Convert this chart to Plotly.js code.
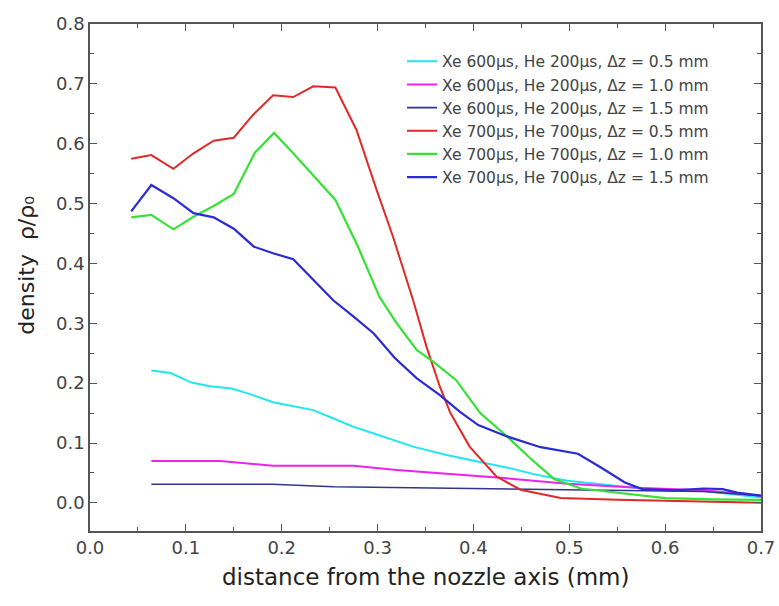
<!DOCTYPE html>
<html>
<head>
<meta charset="utf-8">
<script src="https://cdn.plot.ly/plotly-3.0.1.min.js"></script>
<style>html,body{margin:0;padding:0;background:#fff;}#chart{width:779px;height:606px;}</style>
</head>
<body>
<div id="chart"></div>
<script>
// Xe 600us, He 200us, dz = 0.5 mm (cyan)
const cyanX = [0.064,0.084,0.106,0.125,0.148,0.170,0.191,0.212,0.233,0.254,0.275,0.296,0.337,0.372,0.407,0.438,0.463,0.498,0.533,0.576,0.640,0.700];
const cyanY = [0.221,0.217,0.201,0.195,0.191,0.180,0.168,0.161,0.155,0.141,0.127,0.116,0.094,0.080,0.069,0.058,0.048,0.037,0.031,0.024,0.020,0.009];
// Xe 600us, He 200us, dz = 1.0 mm (magenta)
const magX = [0.064,0.136,0.191,0.275,0.320,0.389,0.428,0.498,0.576,0.640,0.700];
const magY = [0.070,0.070,0.062,0.062,0.055,0.047,0.042,0.032,0.025,0.021,0.012];
// Xe 600us, He 200us, dz = 1.5 mm (navy)
const navyX = [0.064,0.190,0.254,0.350,0.430,0.500,0.570,0.640,0.700];
const navyY = [0.031,0.031,0.027,0.025,0.023,0.022,0.021,0.019,0.012];
// Xe 700us, He 700us, dz = 0.5 mm (red)
const redX = [0.043,0.064,0.087,0.108,0.129,0.150,0.170,0.191,0.212,0.233,0.256,0.278,0.299,0.316,0.337,0.351,0.365,0.376,0.396,0.424,0.449,0.491,0.550,0.600,0.650,0.700];
const redY = [0.575,0.581,0.558,0.584,0.605,0.610,0.648,0.681,0.678,0.696,0.694,0.623,0.523,0.445,0.339,0.261,0.194,0.150,0.094,0.044,0.022,0.008,0.005,0.003,0.002,0.000];
// Xe 700us, He 700us, dz = 1.0 mm (green)
const greenX = [0.043,0.064,0.087,0.108,0.129,0.150,0.172,0.192,0.212,0.233,0.256,0.279,0.302,0.320,0.341,0.358,0.382,0.407,0.435,0.459,0.484,0.512,0.545,0.570,0.600,0.650,0.700];
const greenY = [0.477,0.481,0.457,0.478,0.496,0.516,0.585,0.618,0.584,0.546,0.506,0.430,0.344,0.300,0.255,0.236,0.205,0.150,0.111,0.075,0.040,0.024,0.018,0.014,0.008,0.006,0.005];
// Xe 700us, He 700us, dz = 1.5 mm (blue)
const blueX = [0.043,0.064,0.087,0.108,0.129,0.150,0.171,0.191,0.212,0.233,0.254,0.275,0.296,0.318,0.341,0.365,0.386,0.405,0.435,0.470,0.509,0.533,0.558,0.576,0.610,0.640,0.660,0.675,0.700];
const blueY = [0.487,0.531,0.509,0.484,0.477,0.458,0.428,0.417,0.407,0.372,0.338,0.311,0.283,0.242,0.208,0.180,0.152,0.130,0.111,0.093,0.082,0.059,0.034,0.023,0.021,0.024,0.023,0.017,0.012];

const seriesNames = [
  "Xe 600\u03bcs, He 200\u03bcs, \u0394z = 0.5 mm",
  "Xe 600\u03bcs, He 200\u03bcs, \u0394z = 1.0 mm",
  "Xe 600\u03bcs, He 200\u03bcs, \u0394z = 1.5 mm",
  "Xe 700\u03bcs, He 700\u03bcs, \u0394z = 0.5 mm",
  "Xe 700\u03bcs, He 700\u03bcs, \u0394z = 1.0 mm",
  "Xe 700\u03bcs, He 700\u03bcs, \u0394z = 1.5 mm"
];
const xTitle = "distance from the nozzle axis (mm)";
const yTitle = "density  \u03c1/\u03c1\u2080";

const xs = [cyanX, magX, navyX, redX, greenX, blueX];
const ys = [cyanY, magY, navyY, redY, greenY, blueY];
const colors = ["#22e6ee", "#ee22ee", "#34348e", "#e02a2a", "#36e236", "#2a2ad6"];
const widths = [2, 2, 1.6, 2, 2.2, 2.2];

const traces = xs.map((x, i) => ({
  x: x, y: ys[i], name: seriesNames[i], mode: "lines",
  line: {color: colors[i], width: widths[i]}
}));

function axis(extra) {
  return Object.assign({
    showgrid: false, zeroline: false, showline: true, linecolor: "#555555", linewidth: 1.5,
    mirror: "allticks", ticks: "inside", ticklen: 7, tickwidth: 1.3, tickcolor: "#555555",
    tickfont: {family: "DejaVu Sans", size: 18, color: "#444444"},
    minor: {ticks: "inside", ticklen: 4, dtick: 0.05}
  }, extra);
}

const layout = {
  width: 779, height: 606,
  margin: {l: 90, r: 18, t: 24, b: 75},
  showlegend: true,
  legend: {x: 0.465, y: 0.959, xanchor: "left", yanchor: "top", font: {family: "DejaVu Sans", size: 15.5}},
  xaxis: axis({range: [0, 0.7], dtick: 0.1, tickformat: ".1f"}),
  yaxis: axis({range: [-0.047, 0.8], dtick: 0.1, tickformat: ".1f"}),
  annotations: [
    {text: xTitle, xref: "paper", yref: "paper", x: 0.5, y: -0.091, xanchor: "center", yanchor: "middle",
     showarrow: false, font: {family: "DejaVu Sans", size: 23, color: "#222222"}},
    {text: yTitle, xref: "paper", yref: "paper", x: -0.094, y: 0.525, xanchor: "center", yanchor: "middle",
     textangle: -90, showarrow: false, font: {family: "DejaVu Sans", size: 22, color: "#222222"}}
  ]
};

Plotly.newPlot("chart", traces, layout, {displayModeBar: false});
</script>
</body>
</html>
